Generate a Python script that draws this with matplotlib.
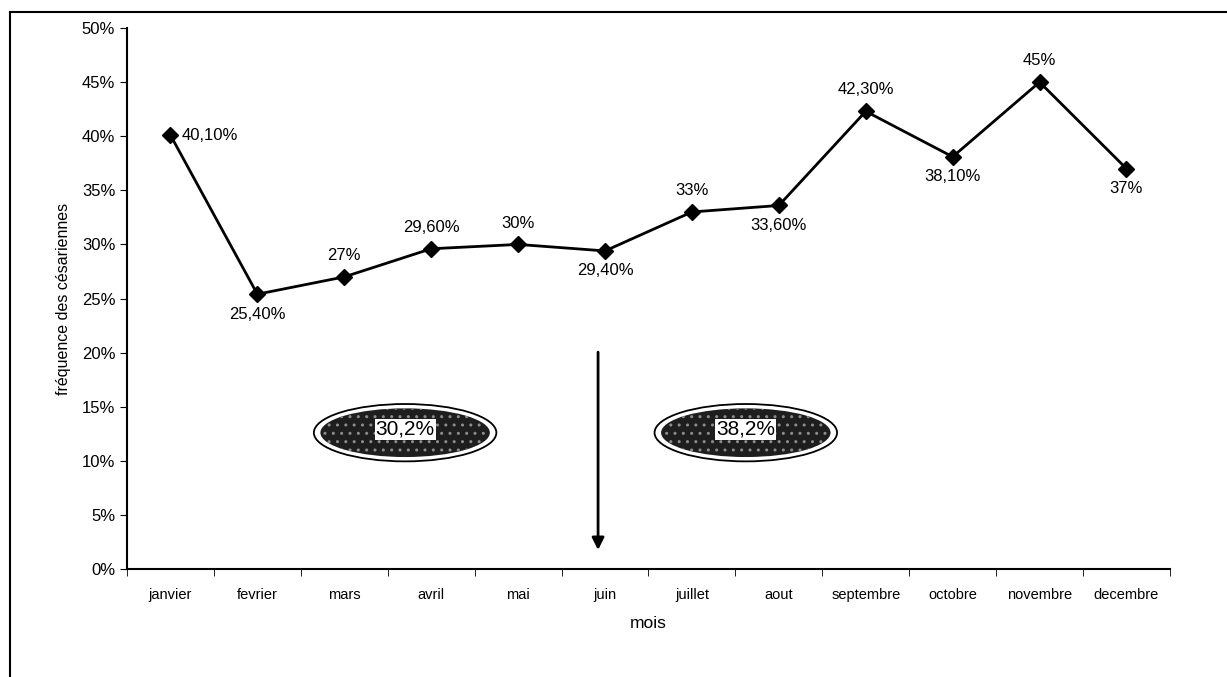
import matplotlib.pyplot as plt
from matplotlib.patches import Ellipse
from matplotlib.lines import Line2D

plt.rcParams["font.family"] = ["Liberation Sans", "DejaVu Sans"]

# -------------------------------------
# Data
# -------------------------------------

months = ["janvier", "fevrier", "mars", "avril", "mai", "juin",
          "juillet", "aout", "septembre", "octobre", "novembre", "decembre"]
rates = [40.1, 25.4, 27.0, 29.6, 30.0, 29.4, 33.0, 33.6, 42.3, 38.1, 45.0, 37.0]
labels = ["40,10%", "25,40%", "27%", "29,60%", "30%", "29,40%",
          "33%", "33,60%", "42,30%", "38,10%", "45%", "37%"]
# where each value label goes relative to its point
label_side = ["right", "below", "above", "above", "above", "below",
              "above", "below", "above", "below", "above", "below"]

half_means = ["30,2%", "38,2%"]

# -------------------------------------
# Plotting
# -------------------------------------

fig = plt.figure(figsize=(12.27, 6.77), dpi=100)
ax = fig.add_axes([0.1035, 0.1595, 0.8500, 0.7991])

x = list(range(len(months)))
ax.plot(x, rates, color="black", linewidth=2, marker="D", markersize=8)

for xi, yi, txt, side in zip(x, rates, labels, label_side):
    if side == "right":
        ax.annotate(txt, (xi, yi), xytext=(8, 0), textcoords="offset points",
                    ha="left", va="center", fontsize=12)
    elif side == "above":
        ax.annotate(txt, (xi, yi), xytext=(0, 10), textcoords="offset points",
                    ha="center", va="bottom", fontsize=12)
    else:
        ax.annotate(txt, (xi, yi), xytext=(0, -9), textcoords="offset points",
                    ha="center", va="top", fontsize=12)

# ellipses with the half-year means
for cx, txt in zip([2.7, 6.62], half_means):
    ax.add_patch(Ellipse((cx, 12.6), 2.1, 5.3, facecolor="white",
                         edgecolor="black", linewidth=1.3, zorder=3))
    ax.add_patch(Ellipse((cx, 12.6), 1.95, 4.5, facecolor="#1e1e1e",
                         edgecolor="#8c8c8c", hatch="..", linewidth=0, zorder=4))
    ax.text(cx, 12.9, txt, ha="center", va="center", fontsize=15, zorder=5,
            bbox=dict(boxstyle="square,pad=0.05", facecolor="white",
                      edgecolor="none"))

# separation arrow
ax.annotate("", xy=(4.92, 1.5), xytext=(4.92, 20.3),
            arrowprops=dict(arrowstyle="-|>", color="black", linewidth=2,
                            mutation_scale=18))

ax.set_xlim(-0.5, len(months) - 0.5)
ax.set_ylim(0, 50)
ax.set_yticks(range(0, 51, 5))
ax.set_yticklabels([f"{v}%" for v in range(0, 51, 5)], fontsize=12)
ax.set_xticks(x)
ax.set_xticklabels(months, fontsize=10.5)
ax.set_xticks([i + 0.5 for i in range(-1, len(months))], minor=True)
ax.tick_params(axis="x", which="major", length=0, pad=14)
ax.tick_params(axis="x", which="minor", length=5, direction="out")
ax.tick_params(axis="y", length=5, direction="out")

ax.spines["top"].set_visible(False)
ax.spines["right"].set_visible(False)
ax.spines["left"].set_linewidth(1.5)
ax.spines["bottom"].set_linewidth(1.5)

ax.set_ylabel("fréquence des césariennes", fontsize=11.5, labelpad=8)
ax.set_xlabel("mois", fontsize=12.5, labelpad=10)

# page frame (top and left edges)
fig.add_artist(Line2D([10 / 1227, 1.0], [1 - 12 / 677, 1 - 12 / 677],
                      color="black", linewidth=1.5, transform=fig.transFigure))
fig.add_artist(Line2D([10 / 1227, 10 / 1227], [0.0, 1 - 12 / 677],
                      color="black", linewidth=1.5, transform=fig.transFigure))

fig.savefig("out.png", dpi=100)
